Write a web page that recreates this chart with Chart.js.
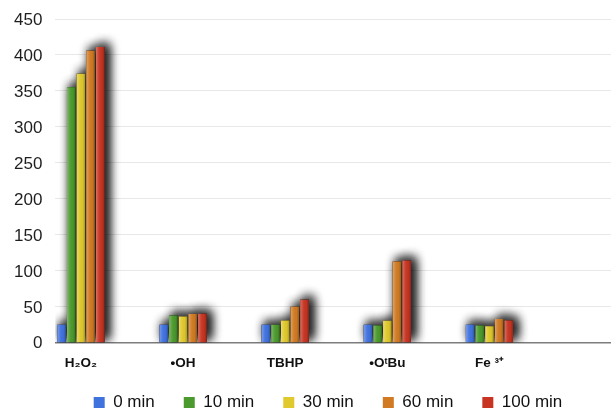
<!DOCTYPE html>
<html>
<head>
<meta charset="utf-8">
<script src="https://cdn.jsdelivr.net/npm/chart.js@4.4.1/dist/chart.umd.min.js"></script>
<style>
  html, body { margin: 0; padding: 0; background: #fff; }
  #wrap { width: 611px; height: 411px; position: relative; }
</style>
</head>
<body>
<div id="wrap"><canvas id="c"></canvas></div>
<script>
// Species measured and their signal after each incubation time
const species = ['H\u2082O\u2082', '\u2022OH', 'TBHP', '\u2022O\u1D57Bu', 'Fe \u00B3\u207A'];
const seriesNames = ['0 min', '10 min', '30 min', '60 min', '100 min'];
const min0   = [25, 25, 25, 25, 25];
const min10  = [355, 38, 25, 24, 24];
const min30  = [374, 36.5, 31, 30.5, 23];
const min60  = [406, 40, 50, 113, 33];
const min100 = [411, 40.5, 60, 114.5, 31];
const yTicks = [0, 50, 100, 150, 200, 250, 300, 350, 400, 450];

const seriesValues = [min0, min10, min30, min60, min100];
const seriesColors = ['#4072de', '#4b9a2d', '#e0c92c', '#d17a22', '#c73421'];

const datasets = seriesNames.map((name, s) => ({
  label: name,
  data: seriesValues[s].map((v, i) => ({ x: i, y: v })),
  backgroundColor: seriesColors[s],
  borderWidth: 0,
  categoryPercentage: 0.473,
  barPercentage: 0.88
}));

// soft drop shadow behind every bar, then a side-lit sheen on top
const barShading = {
  id: 'barShading',
  beforeDatasetsDraw(chart) {
    const { ctx, chartArea } = chart;
    ctx.save();
    ctx.beginPath();
    ctx.rect(chartArea.left, 0, chartArea.right - chartArea.left, chartArea.bottom);
    ctx.clip();
    ctx.shadowColor = 'rgba(0,0,0,0.9)';
    ctx.shadowBlur = 11;
    ctx.shadowOffsetX = 4;
    ctx.shadowOffsetY = -3;
    ctx.fillStyle = '#333';
    for (let pass = 0; pass < 2; pass++) {
      chart.data.datasets.forEach((ds, di) => {
        chart.getDatasetMeta(di).data.forEach(bar => {
          ctx.fillRect(bar.x - bar.width / 2, bar.y, bar.width, bar.base - bar.y);
        });
      });
    }
    ctx.restore();
  },
  afterDatasetsDraw(chart) {
    const { ctx } = chart;
    ctx.save();
    chart.data.datasets.forEach((ds, di) => {
      chart.getDatasetMeta(di).data.forEach(bar => {
        const l = bar.x - bar.width / 2, r = bar.x + bar.width / 2;
        const g = ctx.createLinearGradient(l, 0, r, 0);
        g.addColorStop(0, 'rgba(255,255,255,0.30)');
        g.addColorStop(0.35, 'rgba(255,255,255,0.06)');
        g.addColorStop(0.7, 'rgba(0,0,0,0.02)');
        g.addColorStop(1, 'rgba(0,0,0,0.25)');
        ctx.fillStyle = g;
        ctx.fillRect(l, bar.y, bar.width, bar.base - bar.y);
      });
    });
    ctx.restore();
  }
};

// fixed-height legend row, nudged to sit under the plot
const legendPlacement = {
  id: 'legendPlacement',
  beforeLayout(chart, args, opts) {
    const lg = chart.legend;
    if (lg && !lg._fixedHeight) {
      const fit = lg.fit.bind(lg);
      lg.fit = function () { fit(); this.height = opts.height; };
      lg._fixedHeight = true;
    }
  },
  afterLayout(chart, args, opts) {
    const lg = chart.legend;
    if (!lg) return;
    lg.left += opts.dx; lg.right += opts.dx;
    lg.top += opts.dy;
    lg.bottom = chart.height;
  }
};

new Chart(document.getElementById('c'), {
  type: 'bar',
  data: { datasets },
  plugins: [barShading, legendPlacement],
  options: {
    responsive: true,
    maintainAspectRatio: false,
    animation: false,
    layout: { autoPadding: false, padding: { top: 19, left: 1, right: 0, bottom: 0 } },
    scales: {
      x: {
        type: 'linear',
        offset: false,
        min: -0.25,
        max: 5.19,
        afterBuildTicks: s => { s.ticks = species.map((_, i) => ({ value: i })); },
        ticks: {
          autoSkip: false,
          maxRotation: 0,
          padding: 12,
          color: '#111',
          font: { family: 'Liberation Sans', size: 13.5, weight: 'bold' },
          callback: v => species[v] ?? ''
        },
        grid: { display: false, drawTicks: false },
        border: { display: true, color: '#7d7d7d', width: 1.5 }
      },
      y: {
        min: 0,
        max: 450,
        afterBuildTicks: s => { s.ticks = yTicks.map(v => ({ value: v })); },
        afterFit: s => { s.paddingTop = 0; s.paddingBottom = 0; },
        ticks: {
          padding: 13,
          labelOffset: 1,
          color: '#1e1e1e',
          font: { family: 'Liberation Sans', size: 17 }
        },
        grid: { color: '#e8e8e8', lineWidth: 1, drawTicks: false },
        border: { display: false }
      }
    },
    plugins: {
      legendPlacement: { height: 28, dx: 22, dy: -18 },
      legend: {
        position: 'bottom',
        labels: {
          boxWidth: 11,
          boxHeight: 11,
          padding: 29,
          color: '#111',
          font: { family: 'Liberation Sans', size: 17 },
          sort: (a, b) => a.datasetIndex - b.datasetIndex
        }
      },
      tooltip: { enabled: false }
    }
  }
});
</script>
</body>
</html>
